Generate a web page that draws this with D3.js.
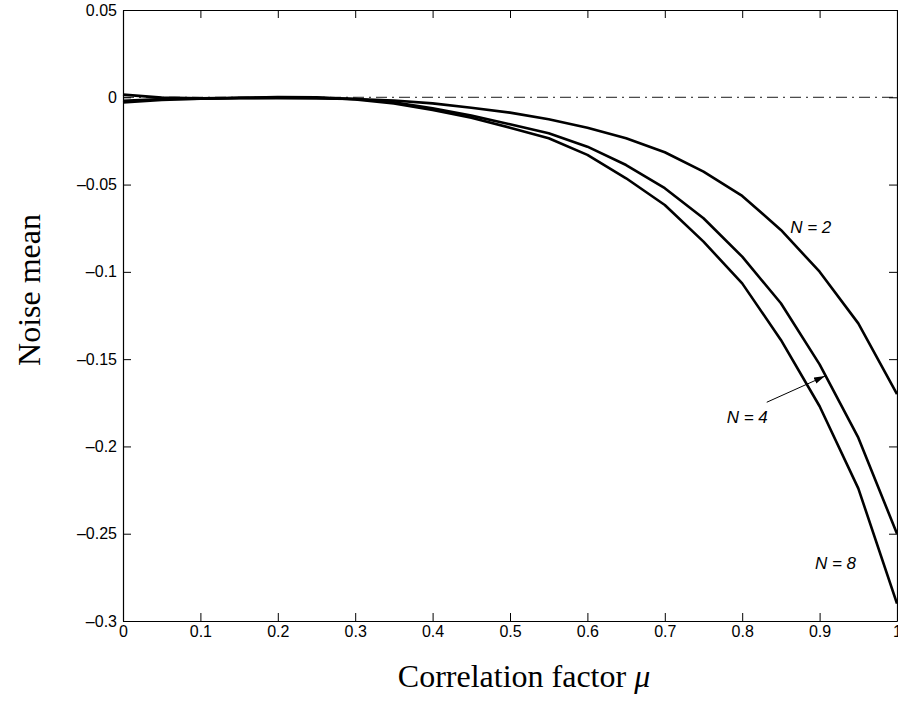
<!DOCTYPE html>
<html>
<head>
    <meta charset="utf-8">
    <title>noise-mean</title>
    <script src="https://cdn.jsdelivr.net/npm/d3@7"></script>
    <style>
        body { margin: 0; background: #fff; }
        .tick text { font-family: "Liberation Sans", Arial, sans-serif; font-size: 16px; fill: #000; }
        .ann { font-family: "Liberation Sans", Arial, sans-serif; font-size: 17px; font-style: italic; }
        .lab { font-family: "Liberation Serif", "Times New Roman", serif; font-size: 32px; }
    </style>
</head>
<body>
<div id="app"></div>
<script>
    // correlation factor mu
    var mu = [0, 0.05, 0.1, 0.15, 0.2, 0.25, 0.3, 0.35, 0.4, 0.45, 0.5,
              0.55, 0.6, 0.65, 0.7, 0.75, 0.8, 0.85, 0.9, 0.95, 1];
    // noise mean for each N
    var n2 = [-0.003, -0.0015, -0.0008, -0.0005, -0.0005, -0.0006, -0.001, -0.0018, -0.0035, -0.006, -0.0088,
              -0.0126, -0.0174, -0.0235, -0.0315, -0.0426, -0.0565, -0.076, -0.0999, -0.1295, -0.17];
    var n4 = [-0.002, -0.001, -0.0008, -0.0004, -0.0002, -0.0003, -0.001, -0.0028, -0.0063, -0.0105, -0.0155,
              -0.0206, -0.0283, -0.0388, -0.0521, -0.0693, -0.0913, -0.118, -0.153, -0.195, -0.25];
    var n8 = [0.0015, -0.0002, -0.0006, -0.0003, 0.0001, 0, -0.0012, -0.0035, -0.0073, -0.0117, -0.0174,
              -0.0235, -0.033, -0.0464, -0.0617, -0.0827, -0.1066, -0.139, -0.177, -0.224, -0.29];
    var xTicks = [0, 0.1, 0.2, 0.3, 0.4, 0.5, 0.6, 0.7, 0.8, 0.9, 1];
    var yTicks = [0.05, 0, -0.05, -0.1, -0.15, -0.2, -0.25, -0.3];
    // curve labels: text, mu, value at baseline
    var labels = [
        {t: "N = 2", x: 0.862, y: -0.0776},
        {t: "N = 4", x: 0.78, y: -0.1866},
        {t: "N = 8", x: 0.894, y: -0.2704}
    ];
    var arrow = {x1: 0.8317, y1: -0.1747, x2: 0.907, y2: -0.1597};

    var W = 898, H = 702;
    var m = {left: 123, right: 1, top: 10, bottom: 81};
    var svg = d3.select('#app').append('svg').attr('width', W).attr('height', H);

    var x = d3.scaleLinear().domain([0, 1]).range([m.left, W - m.right]);
    var y = d3.scaleLinear().domain([-0.3, 0.05]).range([H - m.bottom, m.top]);

    var fmt = function (d) { return d === 0 ? "0" : (d < 0 ? "\u2013" : "") + String(Math.abs(d)); };

    // axes, ticks pointing inward on all four sides
    svg.append('g').attr('transform', 'translate(0,' + y(-0.3) + ')')
        .call(d3.axisBottom(x).tickValues(xTicks).tickSizeInner(-8).tickSizeOuter(0).tickPadding(5).tickFormat(fmt));
    svg.append('g').attr('transform', 'translate(0,' + y(0.05) + ')')
        .call(d3.axisTop(x).tickValues(xTicks).tickSizeInner(-8).tickSizeOuter(0).tickFormat(''));
    svg.append('g').attr('transform', 'translate(' + x(0) + ',0)')
        .call(d3.axisLeft(y).tickValues(yTicks).tickSizeInner(-8).tickSizeOuter(0).tickPadding(6).tickFormat(fmt));
    svg.append('g').attr('transform', 'translate(' + x(1) + ',0)')
        .call(d3.axisRight(y).tickValues(yTicks).tickSizeInner(-8).tickSizeOuter(0).tickFormat(''));
    svg.selectAll('.domain').attr('stroke', '#000').attr('stroke-width', 1.2);
    svg.selectAll('.tick line').attr('stroke', '#000');

    // zero reference line
    svg.append('line')
        .attr('x1', x(0)).attr('x2', x(1)).attr('y1', y(0)).attr('y2', y(0))
        .attr('stroke', '#000').attr('stroke-width', 0.9).attr('stroke-dasharray', '11,5,2,5');

    var line = d3.line().x(function (d, i) { return x(mu[i]); }).y(function (d) { return y(d); });
    [n2, n4, n8].forEach(function (s) {
        svg.append('path').attr('d', line(s))
            .attr('fill', 'none').attr('stroke', '#000').attr('stroke-width', 2.6)
            .attr('stroke-linejoin', 'round');
    });

    // annotations
    svg.selectAll('text.ann').data(labels).enter().append('text')
        .attr('class', 'ann')
        .attr('x', function (d) { return x(d.x); })
        .attr('y', function (d) { return y(d.y); })
        .text(function (d) { return d.t; });

    svg.append('defs').append('marker').attr('id', 'ah')
        .attr('viewBox', '0 0 10 6').attr('refX', 10).attr('refY', 3)
        .attr('markerWidth', 11).attr('markerHeight', 7).attr('markerUnits', 'userSpaceOnUse')
        .attr('orient', 'auto')
        .append('path').attr('d', 'M0,0L10,3L0,6Z').attr('fill', '#000');
    svg.append('line')
        .attr('x1', x(arrow.x1)).attr('y1', y(arrow.y1)).attr('x2', x(arrow.x2)).attr('y2', y(arrow.y2))
        .attr('stroke', '#000').attr('stroke-width', 1).attr('marker-end', 'url(#ah)');

    // axis titles
    svg.append('text').attr('class', 'lab')
        .attr('text-anchor', 'middle')
        .attr('x', 524).attr('y', 687)
        .html('Correlation factor <tspan font-style="italic">\u03bc</tspan>');
    svg.append('text').attr('class', 'lab')
        .attr('text-anchor', 'middle')
        .attr('transform', 'translate(40,290) rotate(-90)')
        .text('Noise mean');
</script>
</body>
</html>
